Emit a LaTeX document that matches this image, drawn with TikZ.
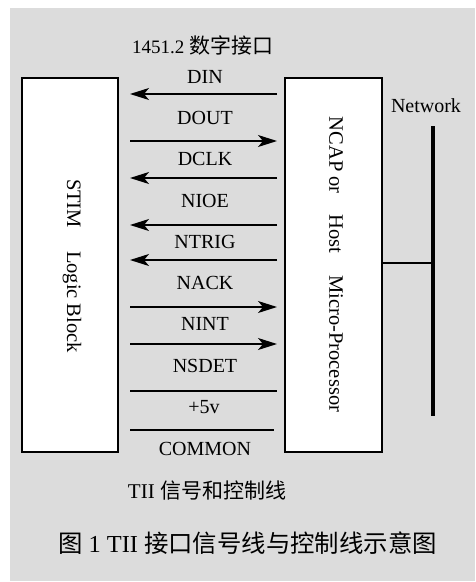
\documentclass[tikz,border=0pt]{standalone}
\usepackage{fontspec}
\setmainfont{Liberation Serif}
\newfontfamily\cjk{Noto Sans CJK SC}
\usetikzlibrary{arrows.meta}
\definecolor{bg}{HTML}{DCDCDC}
\begin{document}
\begin{tikzpicture}[x=1pt,y=-1pt,
  lbl/.style={font=\fontsize{20}{24}\selectfont, inner sep=0pt, anchor=base},
  vtxt/.style={font=\fontsize{20.5}{24}\selectfont, inner sep=0pt, rotate=-90},
  sig/.style={line width=1.3pt, -{Stealth[length=19pt,width=12pt,inset=5pt]}},
  wire/.style={line width=1.3pt},
  blk/.style={draw, line width=1.3pt, fill=white, minimum width=96pt, minimum height=374pt, inner sep=0pt}]
\useasboundingbox (0,0) rectangle (475,582);
\fill[bg] (10,8) rectangle (475,581);
% boxes
\node[blk] (stim) at (70,265) {};
\node[blk, minimum width=97pt] (ncap) at (333.5,265) {};
\node[vtxt] (stimtxt) at (72,266) {STIM\hspace{23pt}Logic Block};
\node[vtxt] (ncaptxt) at (336,264.5) {NCAP or\hspace{21pt}Host\hspace{22pt}Micro-Processor};
% title
\node[inner sep=0pt, anchor=base] (title) at (202.5,53) {\fontsize{19}{22}\selectfont 1451.2 {\cjk\fontsize{21}{24}\selectfont 数字接口}};
% signal lines
\foreach \n/\y in {din/94, dout/141, dclk/178, nioe/225, ntrig/260, nack/307, nint/344, nsdet/391, pwr/430}{
  \coordinate (L\n) at (130,\y);
  \coordinate (R\n) at (277,\y);
}
\draw[sig] (Rdin) -- (Ldin);
\draw[sig] (Ldout) -- (Rdout);
\draw[sig] (Rdclk) -- (Ldclk);
\draw[sig] (Rnioe) -- (Lnioe);
\draw[sig] (Rntrig) -- (Lntrig);
\draw[sig] (Lnack) -- (Rnack);
\draw[sig] (Lnint) -- (Rnint);
\draw[wire] (Lnsdet) -- (Rnsdet);
\draw[wire] (Lpwr) -- ([xshift=-3pt]Rpwr);
% labels
\node[lbl] (tdin) at (205,83) {DIN};
\node[lbl] (tdout) at (205,124) {DOUT};
\node[lbl] (tdclk) at (205,165) {DCLK};
\node[lbl] (tnioe) at (205,207) {NIOE};
\node[lbl] (tntrig) at (205,248) {NTRIG};
\node[lbl] (tnack) at (205,289) {NACK};
\node[lbl] (tnint) at (205,330) {NINT};
\node[lbl] (tnsdet) at (205,372) {NSDET};
\node[lbl] (tpwr) at (204,413) {+5v};
\node[lbl] (tcommon) at (205,455) {COMMON};
% network bus
\coordinate (busT) at (433,126);
\coordinate (busB) at (433,416);
\draw[line width=4pt] (busT) -- (busB);
\coordinate (busJ) at (433,263);
\draw[line width=1.2pt] (ncap.east |- busJ) -- (busJ);
\node[lbl] (net) at (426,112) {Network};
% bottom texts
\node[lbl, font=\fontsize{21}{24}\selectfont] (tii) at (207,498) {TII {\cjk 信号和控制线}};
\node[inner sep=0pt, anchor=base] (caption) at (247.5,552) {\fontsize{24.4}{28}\selectfont {\cjk 图} 1 TII {\cjk 接口信号线与控制线示意图}};
\end{tikzpicture}
\end{document}
